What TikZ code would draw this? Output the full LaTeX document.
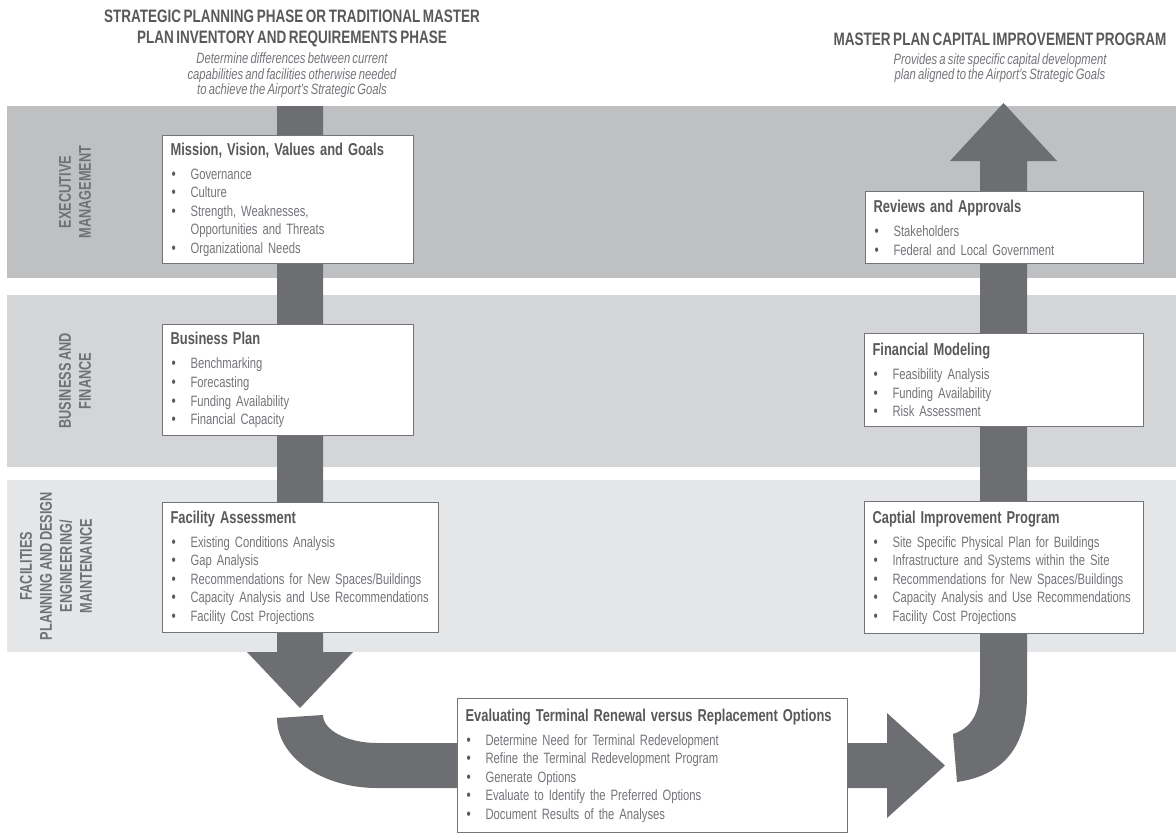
\documentclass[tikz,border=0pt]{standalone}
\usepackage{fontspec}
\setmainfont{Liberation Sans}[FakeStretch=0.75, WordSpace=0.7]
\definecolor{bandA}{HTML}{BFC0C2}
\definecolor{bandB}{HTML}{D4D5D7}
\definecolor{bandC}{HTML}{E5E6E7}
\definecolor{arrowgray}{HTML}{6D6E71}
\definecolor{headgray}{HTML}{58595B}
\definecolor{textgray}{HTML}{74757A}
\definecolor{labelgray}{HTML}{707175}
\definecolor{boxgray}{HTML}{74757A}
% box title and bullet lines
\newcommand{\boxtitle}[1]{{\fontsize{17.2}{18.6}\selectfont\bfseries\color{headgray}#1}\\[5.4pt]}
\newcommand{\itm}[1]{\mbox{\makebox[20pt][l]{\hspace{1pt}{\fontsize{16}{18}\selectfont\color{headgray}•}}#1}}
\newcommand{\cont}[1]{\mbox{\hspace*{20pt}#1}}
\begin{document}
\begin{tikzpicture}[x=1pt,y=-1pt,
  infobox/.style={draw=boxgray, line width=1.2pt, fill=white, anchor=north west,
    inner xsep=8pt, inner ysep=0pt, align=left, text=textgray,
    font=\fontsize{15}{18.6}\selectfont},
  lanelabel/.style={rotate=90, align=center, text=labelgray,
    font=\fontsize{17}{20}\selectfont\bfseries},
  phasehead/.style={align=center, text=headgray,
    font=\fontsize{18}{21}\selectfont\bfseries},
  phasenote/.style={align=center, text=textgray,
    font=\fontsize{15}{15.5}\selectfont\itshape},
  flow/.style={fill=arrowgray, draw=none}]

% canvas
\fill[white] (0,0) rectangle (1176,833);
\useasboundingbox (0,0) rectangle (1176,833);

% swim lanes
\fill[bandA] (7,106) rectangle (1176,278);
\fill[bandB] (7,295) rectangle (1176,467);
\fill[bandC] (7,480) rectangle (1176,652);

% lane labels
\node[lanelabel] (lexec) at (75,192) {\bfseries EXECUTIVE\\\bfseries MANAGEMENT};
\node[lanelabel] (lbus) at (75,381) {\bfseries BUSINESS AND\\\bfseries FINANCE};
\node[lanelabel] (lfac) at (56,566) {\bfseries FACILITIES\\\bfseries PLANNING AND DESIGN\\\bfseries ENGINEERING/\\\bfseries MAINTENANCE};

% phase headings
\node[phasehead] (hstrat) at (292,28.5) {STRATEGIC PLANNING PHASE OR TRADITIONAL MASTER\\PLAN INVENTORY AND REQUIREMENTS PHASE};
\node[phasenote] (nstrat) at (292,75.5) {Determine differences between current\\capabilities and facilities otherwise needed\\to achieve the Airport’s Strategic Goals};
\node[phasehead] (hcip) at (1000,39) {MASTER PLAN CAPITAL IMPROVEMENT PROGRAM};
\node[phasenote] (ncip) at (1000,68) {Provides a site specific capital development\\plan aligned to the Airport’s Strategic Goals};

% downward flow on the left
\fill[flow] (277,106) -- (277,652) -- (247,652) -- (300,708) -- (353,652)
  -- (323,652) -- (323,106) -- cycle;

% bend along the bottom
\fill[flow] (277,718) .. controls (277,757) and (322,788) .. (377,788)
  -- (887,788) -- (887,818) -- (945,765.5) -- (887,713) -- (887,743)
  -- (377,743) .. controls (347,743) and (323,730) .. (323,715) -- cycle;

% hook and upward flow on the right
\fill[flow] (1027,161) -- (1027,695) .. controls (1027,745) and (1005,775) .. (957,782)
  -- (953,734) .. controls (972,728) and (980,712) .. (980,688)
  -- (980,161) -- (950,161) -- (1003.5,103) -- (1057,161) -- cycle;

% left column
\node[infobox, minimum width=251, minimum height=128, text width=235] (mission) at (162,135) {%
  \boxtitle{Mission, Vision, Values and Goals}
  \itm{Governance}\\
  \itm{Culture}\\
  \itm{Strength, Weaknesses,}\\
  \cont{Opportunities and Threats}\\
  \itm{Organizational Needs}};

\node[infobox, minimum width=251, minimum height=111, text width=235] (business) at (162,324) {%
  \boxtitle{Business Plan}
  \itm{Benchmarking}\\
  \itm{Forecasting}\\
  \itm{Funding Availability}\\
  \itm{Financial Capacity}};

\node[infobox, minimum width=276, minimum height=130, text width=260] (facility) at (162,502) {%
  \boxtitle{Facility Assessment}
  \itm{Existing Conditions Analysis}\\
  \itm{Gap Analysis}\\
  \itm{Recommendations for New Spaces/Buildings}\\
  \itm{Capacity Analysis and Use Recommendations}\\
  \itm{Facility Cost Projections}};

% bottom
\node[infobox, minimum width=390, minimum height=134, text width=374] (evaluate) at (457,698) {%
  \boxtitle{Evaluating Terminal Renewal versus Replacement Options}
  \itm{Determine Need for Terminal Redevelopment}\\
  \itm{Refine the Terminal Redevelopment Program}\\
  \itm{Generate Options}\\
  \itm{Evaluate to Identify the Preferred Options}\\
  \itm{Document Results of the Analyses}};

% right column
\node[infobox, minimum width=278, minimum height=72, text width=262] (reviews) at (865,191) {%
  \boxtitle{Reviews and Approvals}
  \itm{Stakeholders}\\
  \itm{Federal and Local Government}};

\node[infobox, minimum width=279, minimum height=93, text width=263] (finance) at (864,333) {%
  \boxtitle{Financial Modeling}
  \itm{Feasibility Analysis}\\
  \itm{Funding Availability}\\
  \itm{Risk Assessment}};

\node[infobox, minimum width=279, minimum height=132, text width=263] (capital) at (864,501) {%
  \boxtitle{Captial Improvement Program}
  \itm{Site Specific Physical Plan for Buildings}\\
  \itm{Infrastructure and Systems within the Site}\\
  \itm{Recommendations for New Spaces/Buildings}\\
  \itm{Capacity Analysis and Use Recommendations}\\
  \itm{Facility Cost Projections}};
\end{tikzpicture}
\end{document}
